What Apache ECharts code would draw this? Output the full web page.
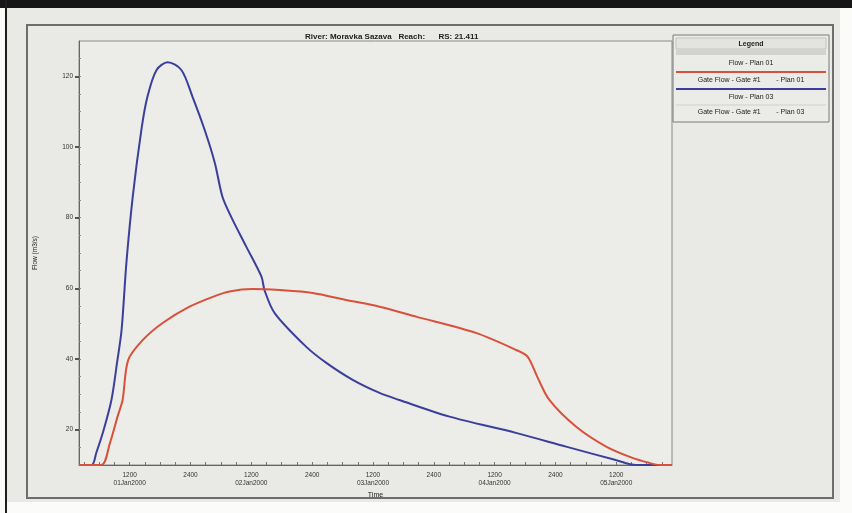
<!DOCTYPE html>
<html>
<head>
<meta charset="UTF-8">
<title>RS 21.411</title>
<script src="https://cdn.jsdelivr.net/npm/echarts@6/dist/echarts.min.js"></script>
<style>
  html, body { margin: 0; padding: 0; background: #ffffff; }
  #container { width: 852px; height: 513px; }
</style>
</head>
<body>
<div id="container"></div>
<script type="text/javascript">
// data: hours counted from 01Jan2000 0000
var chartTitle = 'River: Moravka Sazava   Reach:      RS: 21.411';
var legendNames = ['Flow - Plan 01', 'Gate Flow - Gate #1        - Plan 01', 'Flow - Plan 03', 'Gate Flow - Gate #1        - Plan 03'];

var redHours = [2, 6.4, 8.1, 9.6, 10.6, 11.7, 14.6, 18.5, 23.8, 28.4, 31.7, 36.2, 41.6, 48.1, 54.7, 61.3, 68.5, 80.3, 88.2, 90.5, 92.4, 94.8, 100.1, 106.0, 111.2, 114.5, 116.5, 119];
var redFlow  = [10, 10, 16.2, 23.7, 28.4, 39.7, 45.4, 50.2, 54.8, 57.6, 59.1, 59.8, 59.5, 58.7, 56.7, 54.8, 52.0, 47.4, 42.6, 40.7, 35.0, 28.4, 20.8, 15.2, 12.0, 10.6, 10, 10];

var blueHours = [2, 4.5, 5.4, 6.7, 8.4, 9.5, 10.4, 11.35, 12.6, 14.3, 15.5, 17.3, 19.5, 22.2, 24.4, 26.8, 28.8, 30.3, 32.0, 35.0, 38.0, 38.6, 40.6, 46.8, 50.8, 56.0, 61.3, 65.2, 75.1, 88.2, 98.1, 107.9, 111.9, 119];
var blueFlow  = [10, 10, 13.4, 19.1, 28.4, 38.9, 48.2, 67.2, 85.9, 104.8, 114.2, 121.8, 124, 121.8, 114.2, 104.8, 95.5, 85.9, 80.3, 71.8, 63.3, 59.5, 53.0, 43.5, 38.9, 34.1, 30.4, 28.4, 23.7, 19.1, 15.2, 11.4, 10, 10];

var tickHours  = [12, 24, 36, 48, 60, 72, 84, 96, 108];
var tickLabels = ['1200\n01Jan2000', '2400', '1200\n02Jan2000', '2400', '1200\n03Jan2000', '2400', '1200\n04Jan2000', '2400', '1200\n05Jan2000'];
var yTicks = [20, 40, 60, 80, 100, 120];

function pairs(xs, ys) {
    var out = [];
    for (var i = 0; i < xs.length; i++) out.push([xs[i], ys[i]]);
    return out;
}

var minorX = [];
for (var h = 3; h < 119; h += 3) minorX.push(h);
var minorY = [];
for (var v = 15; v < 130; v += 5) minorY.push(v);

var font = 'Liberation Sans, Arial, sans-serif';
var mychart = echarts.init(document.getElementById('container'));

// legend box drawn by hand, laid out like the original one
var lg = { x: 673, y: 35, w: 156 };
var legendGraphic = [
    { type: 'rect', shape: { x: lg.x, y: lg.y, width: lg.w, height: 87 }, style: { fill: '#ebebe7', stroke: '#7a7a7a', lineWidth: 1 } },
    { type: 'rect', shape: { x: lg.x + 3, y: lg.y + 3, width: lg.w - 6, height: 11 }, style: { fill: '#e3e3df', stroke: '#c4c4c0', lineWidth: 1 } },
    { type: 'text', x: lg.x + lg.w / 2, y: lg.y + 9, style: { text: 'Legend', font: 'bold 7px ' + font, fill: '#222', align: 'center', verticalAlign: 'middle' } },
    { type: 'rect', shape: { x: lg.x + 3, y: lg.y + 14, width: lg.w - 6, height: 6 }, style: { fill: '#d2d3cf' } },
    { type: 'text', x: lg.x + lg.w / 2, y: lg.y + 28, style: { text: legendNames[0], font: '7px ' + font, fill: '#222', align: 'center', verticalAlign: 'middle' } },
    { type: 'line', shape: { x1: lg.x + 3, y1: lg.y + 37, x2: lg.x + lg.w - 3, y2: lg.y + 37 }, style: { stroke: '#d8513b', lineWidth: 2 } },
    { type: 'text', x: lg.x + lg.w / 2, y: lg.y + 45, style: { text: legendNames[1], font: '7px ' + font, fill: '#222', align: 'center', verticalAlign: 'middle' } },
    { type: 'line', shape: { x1: lg.x + 3, y1: lg.y + 54, x2: lg.x + lg.w - 3, y2: lg.y + 54 }, style: { stroke: '#3b3f9c', lineWidth: 2 } },
    { type: 'text', x: lg.x + lg.w / 2, y: lg.y + 62, style: { text: legendNames[2], font: '7px ' + font, fill: '#222', align: 'center', verticalAlign: 'middle' } },
    { type: 'line', shape: { x1: lg.x + 3, y1: lg.y + 70, x2: lg.x + lg.w - 3, y2: lg.y + 70 }, style: { stroke: '#cfcfcb', lineWidth: 1 } },
    { type: 'text', x: lg.x + lg.w / 2, y: lg.y + 77, style: { text: legendNames[3], font: '7px ' + font, fill: '#222', align: 'center', verticalAlign: 'middle' } }
];

var option = {
    backgroundColor: '#fbfbf9',
    animation: false,
    graphic: [
        // photographed window: dark edges and light gray panel
        { type: 'rect', shape: { x: 6, y: 0, width: 834, height: 502 }, style: { fill: '#e9e9e5' }, z: -10 },
        { type: 'rect', shape: { x: 0, y: 0, width: 852, height: 8 }, style: { fill: '#161616' }, z: -9 },
        { type: 'rect', shape: { x: 5, y: 0, width: 2, height: 513 }, style: { fill: '#1e1e1e' }, z: -9 },
        { type: 'rect', shape: { x: 27, y: 25, width: 806, height: 473 }, style: { fill: 'none', stroke: '#6d6d6d', lineWidth: 2 }, z: -8 }
    ].concat(legendGraphic),
    title: {
        text: chartTitle,
        left: 300,
        top: 28,
        textStyle: { fontFamily: font, fontSize: 8, fontWeight: 'bold', color: '#222' }
    },
    grid: {
        left: 79, top: 41, right: 180, bottom: 48,
        show: true, backgroundColor: '#ecece8', borderColor: '#8a8a8a', borderWidth: 1
    },
    xAxis: [{
        type: 'value', min: 2, max: 119,
        name: 'Time', nameLocation: 'middle', nameGap: 21,
        nameTextStyle: { fontFamily: font, fontSize: 7, color: '#222' },
        axisLine: { lineStyle: { color: '#666' } },
        axisTick: { customValues: minorX, inside: true, length: 3, lineStyle: { color: '#777' } },
        splitLine: { show: false },
        axisLabel: {
            customValues: tickHours, margin: 6, lineHeight: 8,
            fontFamily: font, fontSize: 6.5, color: '#333',
            formatter: function (val) {
                var i = tickHours.indexOf(val);
                return i >= 0 ? tickLabels[i] : '';
            }
        }
    }],
    yAxis: [{
        type: 'value', min: 10, max: 130,
        name: 'Flow (m3/s)', nameLocation: 'middle', nameGap: 40, nameRotate: 90,
        nameTextStyle: { fontFamily: font, fontSize: 6.5, color: '#222' },
        axisLine: { show: true, lineStyle: { color: '#666' } },
        axisTick: { customValues: yTicks, length: 4, lineStyle: { color: '#555', width: 2 } },
        splitLine: { show: false },
        axisLabel: { customValues: yTicks, margin: 6, fontFamily: font, fontSize: 6.5, color: '#333' }
    }, {
        type: 'value', min: 10, max: 130, position: 'left',
        axisLine: { show: false },
        axisTick: { customValues: minorY, inside: true, length: 2, lineStyle: { color: '#888' } },
        axisLabel: { show: false },
        splitLine: { show: false }
    }],
    series: [{
        name: legendNames[1],
        type: 'line',
        data: pairs(redHours, redFlow),
        showSymbol: false,
        smooth: 0.3,
        lineStyle: { color: '#d8513b', width: 2 },
        z: 3
    }, {
        name: legendNames[2],
        type: 'line',
        data: pairs(blueHours, blueFlow),
        showSymbol: false,
        smooth: 0.3,
        lineStyle: { color: '#3b3f9c', width: 2 },
        z: 2
    }]
};

mychart.setOption(option);
</script>
</body>
</html>
